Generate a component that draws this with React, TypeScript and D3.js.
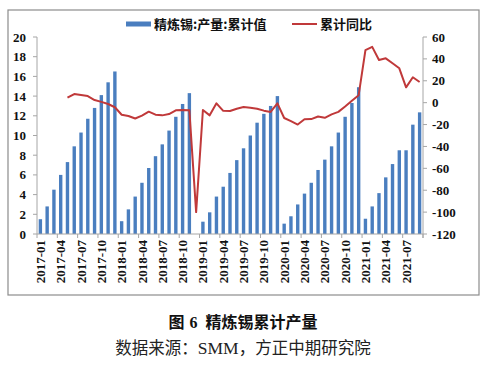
import React from "react";
import * as d3 from "d3";

const categories: string[] = [
  "2017-01","2017-02","2017-03","2017-04","2017-05","2017-06","2017-07","2017-08","2017-09","2017-10","2017-11","2017-12",
  "2018-01","2018-02","2018-03","2018-04","2018-05","2018-06","2018-07","2018-08","2018-09","2018-10","2018-11","2018-12",
  "2019-01","2019-02","2019-03","2019-04","2019-05","2019-06","2019-07","2019-08","2019-09","2019-10","2019-11","2019-12",
  "2020-01","2020-02","2020-03","2020-04","2020-05","2020-06","2020-07","2020-08","2020-09","2020-10","2020-11","2020-12",
  "2021-01","2021-02","2021-03","2021-04","2021-05","2021-06","2021-07","2021-08","2021-09",
];

// 精炼锡:产量:累计值 (万吨)
const cumOutput: (number | null)[] = [
  1.5, 2.8, 4.5, 6.0, 7.3, 8.9, 10.3, 11.7, 12.8, 14.1, 15.4, 16.5,
  1.3, 2.5, 3.8, 5.2, 6.7, 7.9, 9.1, 10.5, 11.9, 13.2, 14.3, null,
  1.25, 2.2, 3.8, 4.8, 6.2, 7.5, 8.7, 10.0, 11.3, 12.2, 13.0, 14.0,
  1.05, 1.8, 3.0, 4.1, 5.2, 6.5, 7.55, 8.9, 10.3, 11.9, 13.3, 14.9,
  1.55, 2.8, 4.15, 5.75, 7.1, 8.5, 8.5, 11.1, 12.35,
];

// 累计同比 (%)
const cumYoY: (number | null)[] = [
  null, null, null, null, 4.5, 7.9, 7.0, 6.0, 2.4, 0.7, -1.2, -4.2,
  -11, -12.2, -14.5, -11.9, -8.2, -11, -11.6, -10.4, -7, -6.7, -7, -100,
  -6.7, -11.6, -0.6, -7.5, -7.6, -5.5, -4, -4.6, -5.5, -7.3, -8.5, -0.6,
  -14, -16.8, -20, -15.1, -15, -12.6, -13.8, -10.7, -8.4, -3.5, 1.8, 6.8,
  48, 51, 39, 40.5, 36, 31.4, 14, 23.2, 18.9,
];

const leftTicks: number[] = [0, 2, 4, 6, 8, 10, 12, 14, 16, 18, 20];
const rightTicks: number[] = [-120, -100, -80, -60, -40, -20, 0, 20, 40, 60];
const xLabelEvery = 3;

const barName = "精炼锡:产量:累计值";
const lineName = "累计同比";
const titlePrefix = "图";
const titleNum = "6";
const titleText = "精炼锡累计产量";
const sourceA = "数据来源：";
const sourceB = "SMM";
const sourceC = "，方正中期研究院";

const W = 491;
const H = 365;
const plotL = 37;
const plotR = 423;
const plotT = 37;
const plotB = 234;

const BAR_COLOR = "#4a7ebf";
const LINE_COLOR = "#c0393a";
const AXIS_COLOR = "#a6a6a6";
const NUM_FONT = "Liberation Serif, Times New Roman, serif";
const CJK_FONT = "Noto Sans CJK SC, sans-serif";

export default function App() {
  const x = d3
    .scaleBand<string>()
    .domain(categories)
    .range([plotL, plotR])
    .paddingInner(0.5)
    .paddingOuter(0.25);
  const step = x.step();
  const yL = d3.scaleLinear().domain([0, 20]).range([plotB, plotT]);
  const yR = d3.scaleLinear().domain([-120, 60]).range([plotB, plotT]);

  const cx = (c: string) => (x(c) as number) + x.bandwidth() / 2;

  const lineGen = d3
    .line<number>()
    .defined((_, i) => cumYoY[i] != null)
    .x((_, i) => cx(categories[i]))
    .y((_, i) => yR(cumYoY[i] as number));
  const linePath = lineGen(categories.map((_, i) => i)) || "";

  const tickXs: number[] = [];
  for (let i = 0; i <= categories.length; i += xLabelEvery) {
    tickXs.push(plotL + step * i);
  }
  tickXs.push(plotR);

  const numStyle = { fontFamily: NUM_FONT, fontWeight: 700 as const };

  return (
    <svg
      width={W}
      height={H}
      style={{ position: "absolute", left: 0, top: 0, background: "#fff" }}
    >
      <rect x={8} y={10} width={471} height={285} fill="#fff" stroke="#8c8c8c" strokeWidth={1.2} />

      {categories.map((c, i) =>
        cumOutput[i] == null ? null : (
          <rect
            key={c}
            x={x(c)}
            y={yL(cumOutput[i] as number)}
            width={x.bandwidth()}
            height={plotB - yL(cumOutput[i] as number)}
            fill={BAR_COLOR}
          />
        )
      )}

      <line x1={plotL} x2={plotL} y1={plotT} y2={plotB} stroke={AXIS_COLOR} />
      {leftTicks.map((t) => (
        <g key={"l" + t}>
          <line x1={plotL - 4} x2={plotL} y1={yL(t)} y2={yL(t)} stroke={AXIS_COLOR} />
          <text x={plotL - 11} y={yL(t)} dy="0.35em" textAnchor="end" style={numStyle} fontSize={13} fill="#111">
            {t}
          </text>
        </g>
      ))}

      <line x1={plotR} x2={plotR} y1={plotT} y2={plotB} stroke={AXIS_COLOR} />
      {rightTicks.map((t) => (
        <g key={"r" + t}>
          <line x1={plotR} x2={plotR + 4} y1={yR(t)} y2={yR(t)} stroke={AXIS_COLOR} />
          <text x={plotR + 9} y={yR(t)} dy="0.35em" textAnchor="start" style={numStyle} fontSize={13} fill="#111">
            {t}
          </text>
        </g>
      ))}

      <line x1={plotL} x2={plotR} y1={plotB} y2={plotB} stroke={AXIS_COLOR} />
      {tickXs.map((tx, i) => (
        <line key={"xt" + i} x1={tx} x2={tx} y1={plotB} y2={plotB + 4} stroke={AXIS_COLOR} />
      ))}
      {categories.map((c, i) =>
        i % xLabelEvery === 0 ? (
          <text
            key={"xl" + c}
            transform={`translate(${cx(c)},${plotB + 6}) rotate(-90)`}
            dy="0.35em"
            textAnchor="end"
            style={numStyle}
            fontSize={13}
            fill="#111"
          >
            {c}
          </text>
        ) : null
      )}

      <path d={linePath} fill="none" stroke={LINE_COLOR} strokeWidth={2} strokeLinejoin="round" />

      <rect x={126} y={21.5} width={25} height={5} fill={BAR_COLOR} />
      <text x={154} y={24} dy="0.35em" style={{ fontFamily: CJK_FONT, fontWeight: 700 }} fontSize={13} fill="#111">
        {barName}
      </text>
      <line x1={292} x2={317} y1={24} y2={24} stroke={LINE_COLOR} strokeWidth={2} />
      <text x={320} y={24} dy="0.35em" style={{ fontFamily: CJK_FONT, fontWeight: 700 }} fontSize={13} fill="#111">
        {lineName}
      </text>

      <text x={243} y={322} dy="0.35em" textAnchor="middle" style={{ fontFamily: CJK_FONT, fontWeight: 700 }} fontSize={16} fill="#111">
        <tspan>{titlePrefix}</tspan>
        <tspan dx={5} style={{ fontFamily: NUM_FONT }}>{titleNum}</tspan>
        <tspan dx={8}>{titleText}</tspan>
      </text>
      <text x={243} y={348} dy="0.35em" textAnchor="middle" style={{ fontFamily: CJK_FONT }} fontSize={16.5} fill="#222">
        <tspan>{sourceA}</tspan>
        <tspan style={{ fontFamily: NUM_FONT }} fontSize={17.5}>{sourceB}</tspan>
        <tspan>{sourceC}</tspan>
      </text>
    </svg>
  );
}
